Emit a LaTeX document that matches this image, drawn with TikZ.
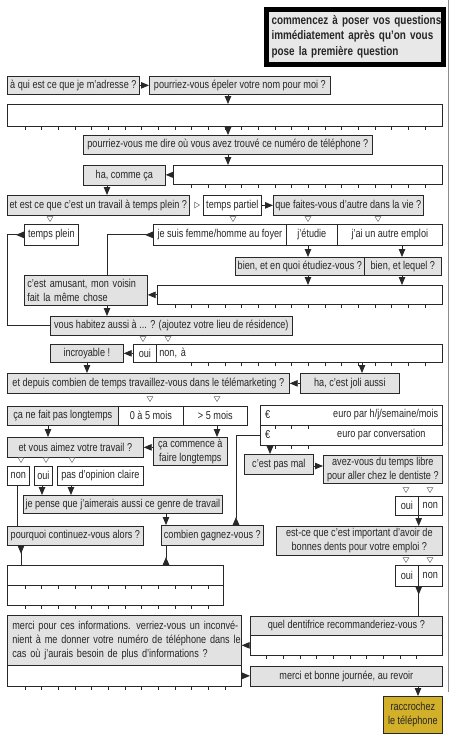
\documentclass[tikz,border=0pt]{standalone}
\usepackage{fontspec}
\setmainfont[FakeStretch=0.8]{Liberation Sans}
\usetikzlibrary{arrows.meta}
\definecolor{boxgray}{RGB}{226,226,226}
\definecolor{edge}{RGB}{40,40,40}
\definecolor{mustard}{RGB}{210,176,42}
\definecolor{titlefill}{RGB}{232,232,232}
\newcommand\mybox[7]{\node[#1, anchor=north west, minimum width={(#5-#3)*1pt}, minimum height={(#6-#4)*1pt}] (#2) at (#3,#4) {#7};}
\newcommand\tickrow[3]{\foreach \k in {0,...,#3} \draw[tickmark] ({#2+16.6667*\k},#1) -- ++(0,4);}
\newcommand\dtri[2]{\draw[opt] ({#1-3},{#2-2.5}) -- ({#1+3},{#2-2.5}) -- (#1,{#2+2.5}) -- cycle;}
\newcommand\rtri[2]{\draw[opt] ({#1-2.5},{#2-3}) -- ({#1-2.5},{#2+3}) -- ({#1+2.5},#2) -- cycle;}
\tikzset{
  qbox/.style={draw=edge, fill=boxgray, line width=0.7pt, inner xsep=1.5pt, inner ysep=0pt},
  abox/.style={draw=edge, fill=white, line width=0.7pt, inner xsep=1.5pt, inner ysep=0pt},
  ybox/.style={draw=edge, fill=mustard, line width=0.7pt, inner xsep=1.5pt, inner ysep=0pt},
  arr/.style={draw=edge, line width=0.8pt, -{Triangle[length=8pt,width=6.5pt]}},
  sarr/.style={draw=edge, line width=0.8pt, {Triangle[reversed,length=8pt,width=6.5pt]}-},
  lnk/.style={draw=edge, line width=0.8pt},
  tickmark/.style={draw=edge, line width=0.7pt},
  opt/.style={draw=black!60, line width=0.5pt},
  pageline/.style={draw=black!45, line width=0.8pt},
  titlebox/.style={draw=black, line width=5pt, fill=titlefill, anchor=north west, minimum width=177pt, minimum height=55pt, text width=166pt, inner xsep=5.5pt, inner ysep=0pt, align=left, font={\fontsize{12.4}{15.5}\selectfont\bfseries}}
}
\begin{document}
\begin{tikzpicture}[x=1pt,y=-1pt, every node/.style={font=\fontsize{11.4}{13.8}\selectfont, text=black!85}]
\useasboundingbox (0,0) rectangle (450,740);
\draw[pageline] (448,0) -- (448,692);

\node[titlebox] (title) at (263.5,6.5) {\mbox{commencez à poser vos questions}\\\mbox{immédiatement après qu'on vous}\\\mbox{pose la première question}};

\mybox{qbox}{q1}{7}{76}{139}{94}{à qui est ce que je m'adresse ?}
\mybox{qbox}{q2}{149}{76}{330}{94}{pourriez-vous épeler votre nom pour moi ?}
\mybox{abox}{a1}{7}{104}{442}{126}{}
\tickrow{126}{25}{24}
\mybox{qbox}{q3}{83}{135}{372}{154}{pourriez-vous me dire où vous avez trouvé ce numéro de téléphone ?}
\mybox{qbox}{hc}{83}{165}{165}{185}{ha, comme ça}
\mybox{abox}{a2}{173}{165}{442}{184}{}
\tickrow{184}{191.67}{14}
\mybox{qbox}{q4}{7}{195}{189}{215}{et est ce que c'est un travail à temps plein ?}
\mybox{abox}{tp}{203}{195}{261}{215}{temps partiel}
\mybox{qbox}{q5}{273}{195}{423}{215}{que faites-vous d'autre dans la vie ?}
\rtri{197}{205}
\dtri{50}{219} \dtri{233}{219} \dtri{308}{219} \dtri{378}{219}
\mybox{abox}{tpl}{24}{224}{78}{245}{temps plein}
\mybox{abox}{foy}{153}{224}{286}{245}{je suis femme/homme au foyer}
\mybox{abox}{etu}{286}{224}{337}{245}{j'étudie}
\mybox{abox}{aut}{337}{224}{442}{245}{j'ai un autre emploi}
\mybox{qbox}{bq}{235}{257}{364}{275}{bien, et en quoi étudiez-vous ?}
\mybox{qbox}{bl}{364}{257}{441}{275}{bien, et lequel ?}
\mybox{qbox, text width=117pt, align=left, inner xsep=3pt}{ams}{24}{275}{147}{305}{\mbox{c'est amusant, mon voisin}\\\mbox{fait la même chose}}
\mybox{abox}{a3}{157}{285}{442}{304}{}
\tickrow{304}{175}{15}
\mybox{qbox}{vh}{50}{316}{292}{335}{vous habitez aussi à ... ? (ajoutez votre lieu de résidence)}
\dtri{143}{339} \dtri{168}{339}
\mybox{qbox}{inc}{50}{344}{123}{362}{incroyable !}
\mybox{abox}{oui1}{133}{344}{156}{362}{oui}
\mybox{abox, text width=280pt, align=left, inner xsep=3pt}{nona}{156}{344}{442}{362}{non, à}
\tickrow{362}{191.67}{14}
\mybox{qbox}{q6}{7}{373}{289}{393}{et depuis combien de temps travaillez-vous dans le télémarketing ?}
\mybox{qbox}{joli}{300}{373}{399}{393}{ha, c'est joli aussi}
\dtri{150}{399} \dtri{217}{399}
\mybox{qbox}{pl}{7}{406}{118}{425}{ça ne fait pas longtemps}
\mybox{abox}{m05}{118}{406}{183}{425}{0 à 5 mois}
\mybox{abox}{gt5}{183}{406}{247}{425}{> 5 mois}
\mybox{abox}{eu1}{260}{405}{442}{425}{}
\mybox{abox}{eu2}{260}{425}{442}{445}{}
\node[anchor=west, inner sep=0pt] (e1) at (265,415) {€};
\node[anchor=west, inner sep=0pt] (t1) at (333,415) {euro par h/j/semaine/mois};
\node[anchor=west, inner sep=0pt] (e2) at (265,435) {€};
\node[anchor=west, inner sep=0pt] (t2) at (337,435) {euro par conversation};
\tickrow{425}{275}{2}
\tickrow{445}{275}{2}
\mybox{qbox}{aim}{7}{437}{143}{457}{et vous aimez votre travail ?}
\mybox{qbox, align=center}{com}{153}{437}{227}{465}{ça commence à\\faire longtemps}
\mybox{qbox}{cpm}{244}{454}{313}{474}{c'est pas mal}
\mybox{qbox, align=center}{av}{323}{455}{442}{483}{avez-vous du temps libre\\pour aller chez le dentiste ?}
\dtri{21}{460} \dtri{46}{460} \dtri{72}{460}
\mybox{abox}{non2}{7}{466}{29}{485}{non}
\mybox{abox}{oui2}{34}{466}{52}{485}{oui}
\mybox{abox}{pdo}{57}{466}{143}{485}{pas d'opinion claire}
\dtri{406}{490} \dtri{430}{490}
\mybox{abox}{yo1}{395}{496}{418}{515}{oui}
\mybox{abox}{yn1}{418}{496}{442}{515}{non}
\mybox{qbox}{jp}{23}{495}{222}{513}{je pense que j'aimerais aussi ce genre de travail}
\mybox{qbox}{pq}{7}{526}{143}{545}{pourquoi continuez-vous alors ?}
\mybox{qbox}{cg}{161}{525}{263}{545}{combien gagnez-vous ?}
\mybox{qbox, align=center}{imp}{276}{526}{442}{555}{est-ce que c'est important d'avoir de\\bonnes dents pour votre emploi ?}
\dtri{406}{560} \dtri{430}{560}
\mybox{abox}{yo2}{395}{565}{418}{586}{oui}
\mybox{abox}{yn2}{418}{565}{442}{586}{non}
\mybox{abox}{a4}{7}{565}{223}{585}{}
\mybox{abox}{a4b}{7}{585}{223}{605}{}
\tickrow{585}{25}{11}
\tickrow{605}{25}{11}
\mybox{qbox, text width=224pt, align=left, inner xsep=5pt}{mc}{7}{615}{241}{665}{\mbox{merci pour ces informations. verriez-vous un inconvé-}\\\mbox{nient à me donner votre numéro de téléphone dans le}\\\mbox{cas où j'aurais besoin de plus d'informations ?}}
\mybox{abox}{a6}{7}{665}{241}{686}{}
\tickrow{686}{25}{12}
\mybox{qbox}{qd}{250}{616}{442}{635}{quel dentifrice recommanderiez-vous ?}
\mybox{abox}{a5}{250}{635}{442}{655}{}
\tickrow{655}{266.67}{9}
\mybox{qbox}{mb}{250}{666}{442}{686}{merci et bonne journée, au revoir}
\mybox{ybox, align=center}{rac}{383}{696}{442}{733}{raccrochez\\le téléphone}

% connectors
\draw[arr] (q1.east) -- (q2.west);
\draw[arr] (q2.south -| 228,0) -- (a1.north -| 228,0);
\draw[arr] (a1.south -| 228,0) -- (q3.north -| 228,0);
\draw[arr] (q3.south -| 228,0) -- (a2.north -| 228,0);
\draw[arr] (a2.west) -- (a2.west -| hc.east);
\draw[arr] (hc.south -| 107,0) -- (q4.north -| 107,0);
\draw[arr] (tp.east) -- (q5.west);
\draw[sarr] (tpl.west) -- (tpl.west -| 7,0) |- (vh.west);
\draw[sarr] (foy.west) -| (ams.north -| 107,0);
\draw[arr] (etu.south -| 308,0) -- (bq.north -| 308,0);
\draw[arr] (aut.south -| 402,0) -- (bl.north -| 402,0);
\draw[arr] (bq.south -| 308,0) -- (a3.north -| 308,0);
\draw[arr] (bl.south -| 402,0) -- (a3.north -| 402,0);
\draw[arr] (a3.west) -- (a3.west -| ams.east);
\draw[arr] (ams.south -| 107,0) -- (vh.north -| 107,0);
\draw[arr] (oui1.west) -- (oui1.west -| inc.east);
\draw[arr] (inc.south -| 87,0) -- (q6.north -| 87,0);
\draw[arr] (nona.south -| 362,0) -- (joli.north -| 362,0);
\draw[arr] (joli.west) -- (joli.west -| q6.east);
\draw[arr] (pl.south -| 48,0) -- (aim.north -| 48,0);
\draw[arr] (gt5.south -| 217,0) -- (com.north -| 217,0);
\draw[arr] (aim.east -| com.west) -- (aim.east);
\draw[arr] (oui2.south -| 42,0) -- (jp.north -| 42,0);
\draw[arr] (pdo.south -| 71,0) -- (jp.north -| 71,0);
\draw[arr] (jp.south -| 166,0) -- (cg.north -| 166,0);
\draw[lnk] (non2.south -| 17,0) -- (pq.north -| 17,0);
\draw[sarr] (pq.south -| 21,0) -- (a4.north -| 21,0);
\draw[sarr] (a4.north -| 166,0) -- (cg.south -| 166,0);
\draw[sarr] (cg.north -| 236,0) |- (eu2.west);
\draw[arr] (eu2.south -| 270,0) -- (cpm.north -| 270,0);
\draw[arr] (cpm.east |- 0,466) -- (av.west |- 0,466);
\draw[arr] (yo1.south east) -- (imp.north -| yo1.south east);
\draw[sarr] (yo2.south east) -- (qd.north -| yo2.south east);
\draw[arr] (a5.west) -- (a5.west -| mc.east);
\draw[arr] (a6.east) -- (a6.east -| mb.west);
\draw[arr] (mb.south -| 418,0) -- (rac.north -| 418,0);
\end{tikzpicture}
\end{document}
